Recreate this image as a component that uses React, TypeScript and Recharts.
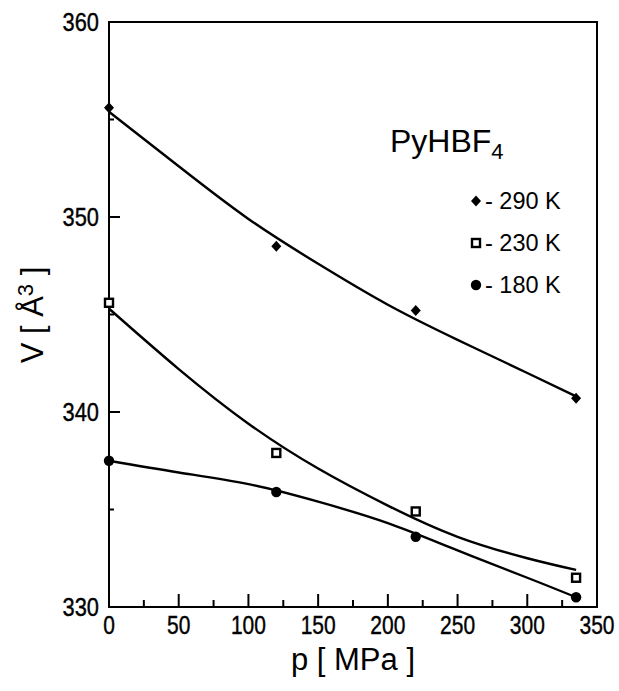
import React from 'react';
import {ComposedChart, Line, Scatter, XAxis, YAxis, ReferenceArea} from 'recharts';

// measured points
const pressure = [0, 120, 220, 335];
const v290 = [355.6, 348.5, 345.2, 340.7];
const v230 = [345.6, 337.9, 334.9, 331.5];
const v180 = [337.5, 335.9, 333.6, 330.5];

// fitted curves
const fitP = [0, 50, 100, 150, 200, 250, 300, 335];
const fit290 = [355.4, 352.6, 349.9, 347.6, 345.5, 343.7, 342.0, 340.8];
const fit230 = [345.3, 342.2, 339.4, 337.1, 335.2, 333.6, 332.5, 331.9];
const fit180 = [337.5, 336.9, 336.3, 335.4, 334.3, 332.9, 331.5, 330.5];

const xTicks = [0, 25, 50, 75, 100, 125, 150, 175, 200, 225, 250, 275, 300, 325, 350];
const yTicks = [330, 335, 340, 345, 350, 355, 360];
const legendItems = [
    {label: '- 290 K', shape: 'diamond'},
    {label: '- 230 K', shape: 'square'},
    {label: '- 180 K', shape: 'circle'},
];

const FONT = '"Liberation Sans", Arial, sans-serif';
const SQUEEZE = 0.84; // the scanned tick digits are condensed

const toPoints = (xs: number[], ys: number[]) => xs.map((p, i) => ({p, v: ys[i]}));

const Marker = ({cx, cy, shape}: {cx: number; cy: number; shape: string}) => {
    if (shape === 'diamond') {
        return <path d={`M${cx},${cy - 5.5} L${cx + 5},${cy} L${cx},${cy + 5.5} L${cx - 5},${cy} Z`} fill="#000" />;
    }
    if (shape === 'square') {
        return <rect x={cx - 4} y={cy - 4} width={8} height={8} fill="#fff" stroke="#000" strokeWidth={2.4} />;
    }
    return <circle cx={cx} cy={cy} r={5.2} fill="#000" />;
};

const XTick = (props: any) => {
    const {x, y, payload} = props;
    const major = payload.value % 50 === 0;
    return (
        <g>
            <line x1={x} x2={x} y1={y} y2={y - (major ? 13 : 7)} stroke="#000" strokeWidth={2} />
            {major && (
                <text transform={`translate(${x},${y + 27}) scale(${SQUEEZE},1)`} textAnchor="middle"
                      fontFamily={FONT} fontSize={25} fill="#000" stroke="#000" strokeWidth={0.4}>
                    {payload.value}
                </text>
            )}
        </g>
    );
};

const YTick = (props: any) => {
    const {x, y, payload} = props;
    const major = payload.value % 10 === 0;
    return (
        <g>
            <line x1={x} x2={x + (major ? 11 : 5)} y1={y} y2={y} stroke="#000" strokeWidth={2} />
            {major && (
                <text transform={`translate(${x - 10},${y + 9}) scale(${SQUEEZE},1)`} textAnchor="end"
                      fontFamily={FONT} fontSize={26} fill="#000" stroke="#000" strokeWidth={0.4}>
                    {payload.value}
                </text>
            )}
        </g>
    );
};

const LegendBox = () => (
    <svg width={200} height={180} style={{position: 'absolute', left: 377, top: 120}}>
        <text x={13} y={32} fontFamily={FONT} fontSize={32} fill="#000">
            PyHBF<tspan fontSize={22} dy={7}>4</tspan>
        </text>
        {legendItems.map((item, i) => (
            <g key={item.label}>
                <Marker cx={99} cy={81 + i * 42} shape={item.shape} />
                <text x={108} y={89 + i * 42} fontFamily={FONT} fontSize={23.5} fill="#000">{item.label}</text>
            </g>
        ))}
    </svg>
);

export default function App() {
    return (
        <div style={{position: 'absolute', left: 0, top: 0, width: 619, height: 691, background: '#fff'}}>
            <ComposedChart
                width={619}
                height={691}
                margin={{top: 22, right: 22, bottom: 83, left: 108}}
            >
                <XAxis
                    dataKey="p"
                    type="number"
                    domain={[0, 350]}
                    ticks={xTicks}
                    interval={0}
                    height={1}
                    tickSize={0}
                    tickMargin={0}
                    tickLine={false}
                    tick={<XTick />}
                    axisLine={{stroke: '#000', strokeWidth: 2}}
                    label={{
                        content: () => (
                            <text x={353} y={670} textAnchor="middle" fontFamily={FONT} fontSize={31} fill="#000">
                                p [ MPa ]
                            </text>
                        ),
                    }}
                />
                <YAxis
                    dataKey="v"
                    type="number"
                    domain={[330, 360]}
                    ticks={yTicks}
                    interval={0}
                    width={1}
                    tickSize={0}
                    tickMargin={0}
                    tickLine={false}
                    tick={<YTick />}
                    axisLine={{stroke: '#000', strokeWidth: 2}}
                    label={{
                        content: () => (
                            <text
                                x={43}
                                y={315}
                                transform="rotate(-90 43 315)"
                                textAnchor="middle"
                                fontFamily={FONT}
                                fontSize={31}
                                fill="#000"
                            >
                                V [ Å<tspan fontSize={22} dy={-10}>3</tspan><tspan dy={10}> ]</tspan>
                            </text>
                        ),
                    }}
                />
                <ReferenceArea x1={0} x2={350} y1={330} y2={360} fill="none" stroke="#000" strokeWidth={2} />
                <Line data={toPoints(fitP, fit290)} dataKey="v" type="natural" stroke="#000" strokeWidth={2.4} dot={false} isAnimationActive={false} />
                <Line data={toPoints(fitP, fit230)} dataKey="v" type="natural" stroke="#000" strokeWidth={2.4} dot={false} isAnimationActive={false} />
                <Line data={toPoints(fitP, fit180)} dataKey="v" type="natural" stroke="#000" strokeWidth={2.4} dot={false} isAnimationActive={false} />
                <Scatter data={toPoints(pressure, v290)} dataKey="v" isAnimationActive={false}
                         shape={(s: any) => <Marker cx={s.cx} cy={s.cy} shape="diamond" />} />
                <Scatter data={toPoints(pressure, v230)} dataKey="v" isAnimationActive={false}
                         shape={(s: any) => <Marker cx={s.cx} cy={s.cy} shape="square" />} />
                <Scatter data={toPoints(pressure, v180)} dataKey="v" isAnimationActive={false}
                         shape={(s: any) => <Marker cx={s.cx} cy={s.cy} shape="circle" />} />
            </ComposedChart>
            <LegendBox />
        </div>
    );
}
